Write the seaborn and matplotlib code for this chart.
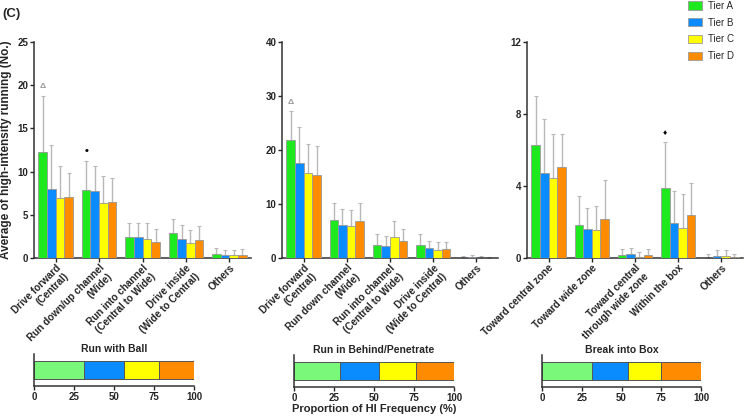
import matplotlib
matplotlib.use('Agg')
import matplotlib.pyplot as plt
from matplotlib.patches import Patch
import numpy as np
import pandas as pd
import seaborn as sns

# tiers and colours
tiers = ['Tier A', 'Tier B', 'Tier C', 'Tier D']
cores = ['#1ee81e', '#0a8cff', '#ffff00', '#ff8c00']
cores_claras = ['#79f879', '#0a8cff', '#ffff00', '#ff8c00']

# painel 1 - Run with Ball
cat_bola = ['Drive forward\n(Central)', 'Run down/up channel\n(Wide)',
            'Run into channel\n(Central to Wide)', 'Drive inside\n(Wide to Central)', 'Others']
media_bola_A = [12.3, 7.9, 2.45, 2.9, 0.5]
media_bola_B = [8.0, 7.8, 2.4, 2.25, 0.4]
media_bola_C = [6.9, 6.4, 2.2, 1.75, 0.35]
media_bola_D = [7.1, 6.5, 1.8, 2.1, 0.4]
topo_bola_A = [18.8, 11.2, 4.1, 4.5, 1.15]
topo_bola_B = [13.1, 10.7, 4.0, 3.8, 0.95]
topo_bola_C = [10.6, 9.5, 4.05, 3.25, 0.95]
topo_bola_D = [9.8, 9.3, 3.4, 3.7, 1.05]

# painel 2 - Run in Behind/Penetrate
cat_atras = ['Drive forward\n(Central)', 'Run down channel\n(Wide)',
             'Run into channel\n(Central to Wide)', 'Drive inside\n(Wide to Central)', 'Others']
media_atras_A = [21.85, 7.0, 2.5, 2.35, 0.05]
media_atras_B = [17.5, 6.2, 2.3, 1.8, 0.1]
media_atras_C = [15.7, 5.9, 3.8, 1.45, 0.05]
media_atras_D = [15.3, 6.85, 3.1, 1.65, 0.05]
topo_atras_A = [27.2, 10.2, 4.5, 4.4, 0.3]
topo_atras_B = [24.2, 9.0, 4.0, 3.1, 0.5]
topo_atras_C = [21.2, 8.8, 6.8, 3.0, 0.3]
topo_atras_D = [20.7, 10.2, 5.3, 3.0, 0.2]

# painel 3 - Break into Box
cat_area = ['Toward central zone', 'Toward wide zone', 'Toward central\nthrough wide zone',
            'Within the box', 'Others']
media_area_A = [6.27, 1.85, 0.15, 3.9, 0.0]
media_area_B = [4.73, 1.6, 0.2, 1.92, 0.1]
media_area_C = [4.47, 1.58, 0.08, 1.65, 0.1]
media_area_D = [5.03, 2.16, 0.15, 2.37, 0.05]
topo_area_A = [9.0, 3.47, 0.5, 6.43, 0.25]
topo_area_B = [7.7, 2.8, 0.55, 3.7, 0.42]
topo_area_C = [6.9, 2.88, 0.35, 3.58, 0.42]
topo_area_D = [6.9, 4.36, 0.48, 4.18, 0.25]

# marcadores de significancia (categoria, simbolo)
sig_bola = [(0, '\u0394'), (1, '\u2022')]
sig_atras = [(0, '\u0394')]
sig_area = [(3, '\u2666')]

# proporcao (%) de frequencia HI por tier
titulos_prop = ['Run with Ball', 'Run in Behind/Penetrate', 'Break into Box']
prop_bola = [31, 25.5, 21.8, 21.7]
prop_atras = [28.8, 24.3, 22.9, 24.0]
prop_area = [31.6, 22.7, 20.6, 25.1]

sns.set_style('ticks')
plt.rcParams['font.family'] = ['Liberation Sans', 'DejaVu Sans']
plt.rcParams['font.weight'] = 'bold'
plt.rcParams['axes.linewidth'] = 1.1
plt.rcParams['axes.edgecolor'] = '#333333'
plt.rcParams['xtick.major.size'] = 3
plt.rcParams['ytick.major.size'] = 3


def montar_df(categorias, medias, topos):
    linhas = []
    for tier, med, top in zip(tiers, medias, topos):
        for cat, m, t in zip(categorias, med, top):
            linhas.append({'Categoria': cat, 'Tier': tier, 'Media': m, 'Topo': t})
    return pd.DataFrame(linhas)


def painel_barras(ax, categorias, medias, topos, ymax, passo, sinais):
    df = montar_df(categorias, medias, topos)
    sns.barplot(data=df, x='Categoria', y='Media', hue='Tier', palette=cores, saturation=1,
                errorbar=None, width=0.8, edgecolor='#9a9a9a', linewidth=0.6,
                legend=False, ax=ax, zorder=3)
    # barras de erro (so para cima)
    for cont, tier in zip(ax.containers, tiers):
        sub = df[df['Tier'] == tier]
        xs = [p.get_x() + p.get_width() / 2 for p in cont.patches]
        med = sub['Media'].values
        top = sub['Topo'].values
        ax.errorbar(xs, med, yerr=[np.zeros(len(med)), top - med], fmt='none',
                    ecolor='#b8b8b8', elinewidth=1.0, capsize=1.5, capthick=0.8, zorder=2)
    # sinais de significancia
    sub_a = df[df['Tier'] == 'Tier A']
    for idx, simb in sinais:
        p = ax.containers[0].patches[idx]
        cor = '#999999' if simb == '\u0394' else 'black'
        ax.text(p.get_x() + p.get_width() / 2, sub_a['Topo'].values[idx] + ymax * 0.025, simb,
                ha='center', va='bottom', fontsize=6 if simb != '\u2022' else 8, color=cor)
    ax.set_ylim(0, ymax)
    ax.set_xlim(-0.5, 4.5)
    ax.set_yticks(np.arange(0, ymax + 0.1, passo))
    ax.set_xlabel('')
    ax.set_ylabel('')
    ax.tick_params(axis='y', labelsize=7, width=1, pad=1)
    ax.tick_params(axis='x', labelsize=7, width=1, pad=0.5)
    plt.setp(ax.get_xticklabels(), rotation=45, ha='right', rotation_mode='anchor',
             fontsize=7.2, fontweight='bold')
    sns.despine(ax=ax)


def painel_prop(ax, titulo, props):
    acum = np.cumsum(props)
    # empilhado: desenha do maior acumulado para o menor
    for k in range(len(tiers) - 1, -1, -1):
        sns.barplot(x=[acum[k]], y=[0], orient='h', color=cores_claras[k], saturation=1,
                    edgecolor='#555555', linewidth=0.7, width=0.8, ax=ax)
    ax.set_xlim(0, 100)
    ax.set_ylim(-0.75, 0.75)
    ax.invert_yaxis()
    ax.set_yticks([])
    ax.set_xticks([0, 25, 50, 75, 100])
    ax.tick_params(axis='x', labelsize=7, width=1, pad=1)
    ax.set_title(titulo, fontsize=7.5, fontweight='bold', pad=0)
    sns.despine(ax=ax)


fig = plt.figure(figsize=(7.44, 4.17), dpi=100)

ax1 = fig.add_axes([34 / 744, 1 - 258 / 417, 217 / 744, 216 / 417])
ax2 = fig.add_axes([282 / 744, 1 - 258 / 417, 216 / 744, 216 / 417])
ax3 = fig.add_axes([527 / 744, 1 - 258 / 417, 216 / 744, 216 / 417])

painel_barras(ax1, cat_bola,
              [media_bola_A, media_bola_B, media_bola_C, media_bola_D],
              [topo_bola_A, topo_bola_B, topo_bola_C, topo_bola_D], 25, 5, sig_bola)
painel_barras(ax2, cat_atras,
              [media_atras_A, media_atras_B, media_atras_C, media_atras_D],
              [topo_atras_A, topo_atras_B, topo_atras_C, topo_atras_D], 40, 10, sig_atras)
painel_barras(ax3, cat_area,
              [media_area_A, media_area_B, media_area_C, media_area_D],
              [topo_area_A, topo_area_B, topo_area_C, topo_area_D], 12, 4, sig_area)

ax1.set_ylabel('Average of high-intensity running (No.)', fontsize=8.5, fontweight='bold', labelpad=4)

# barras de proporcao em baixo
bx1 = fig.add_axes([34 / 744, 1 - 386 / 417, 160 / 744, 32 / 417])
bx2 = fig.add_axes([294 / 744, 1 - 387 / 417, 160 / 744, 32 / 417])
bx3 = fig.add_axes([542 / 744, 1 - 387 / 417, 159 / 744, 32 / 417])
painel_prop(bx1, titulos_prop[0], prop_bola)
painel_prop(bx2, titulos_prop[1], prop_atras)
painel_prop(bx3, titulos_prop[2], prop_area)
bx2.set_xlabel('Proportion of HI Frequency (%)', fontsize=8, fontweight='bold', labelpad=1)

fig.text(2 / 744, 1 - 14 / 417, '(C)', fontsize=9.5, fontweight='bold', va='center')

handles = [Patch(facecolor=c, edgecolor='#9a9a9a', linewidth=0.6) for c in cores]
fig.legend(handles, tiers, loc='upper left', bbox_to_anchor=(688 / 744, 0.998), frameon=False,
           prop={'size': 7, 'weight': 'normal'}, handlelength=1.4, handleheight=0.9,
           labelspacing=0.7, handletextpad=0.7, borderpad=0, borderaxespad=0)

fig.savefig('out.png', dpi=100)
